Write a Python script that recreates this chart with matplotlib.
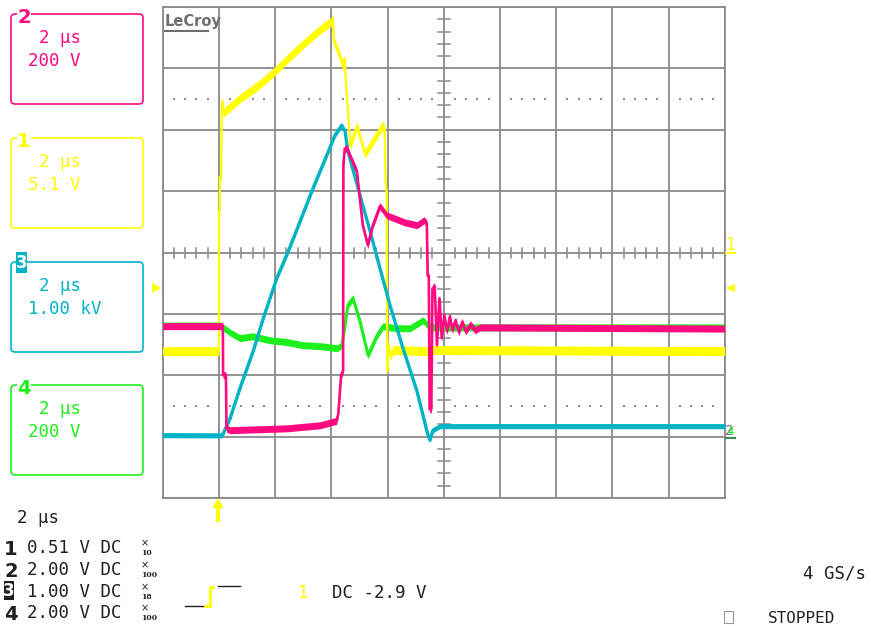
import numpy as np
import matplotlib.pyplot as plt
from matplotlib.patches import FancyBboxPatch, Rectangle, Polygon

W, H = 871, 626

# time in microseconds, trigger at t = 0 (2 us/div, screen spans -2..18 us)
# ch1: gate drive (V), 5.1 V/div
ch1_t = [-2.0, 0.0, 0.0, 0.03, 0.03, 0.08, 0.10, 0.12, 0.15, 0.75, 1.36, 1.92, 2.53,
         3.14, 3.70, 4.02, 4.06, 4.10, 4.26, 4.42, 4.47, 4.52, 4.63, 4.68, 4.91, 5.20,
         5.84, 5.90, 5.93, 5.97, 5.99, 6.03, 6.10, 6.20, 7.40, 7.50, 7.60, 18.0]
ch1_v = [-8.2, -8.2, 3.4, 3.4, 6.3, 6.3, 11.4, 12.6, 11.6, 12.8, 13.8, 14.9, 16.3,
         17.6, 18.7, 19.2, 19.5, 17.5, 16.6, 15.5, 16.1, 14.2, 10.5, 8.9, 10.5, 8.2,
         10.6, 10.2, 5.8, 5.0, -9.9, -7.6, -8.6, -8.1, -8.2, -8.8, -8.1, -8.2]

# ch2: switch voltage (V), 200 V/div
ch2_t = [-2.0, 0.14, 0.15, 0.25, 0.27, 0.40, 2.42, 3.60, 4.13, 4.18, 4.25, 4.35, 4.42,
         4.43, 4.48, 4.56, 4.66, 4.91, 5.12, 5.30, 5.48, 5.73, 5.98, 6.26, 6.62, 7.05,
         7.30, 7.40, 7.43, 7.47, 7.50, 7.56, 7.60, 7.68, 7.76, 7.85, 7.93, 8.02, 8.12,
         8.22, 8.31, 8.42, 8.54, 8.66, 8.78, 8.95, 9.12, 9.30, 18.0]
ch2_v = [326, 326, 166, 166, -8, -13, -7, 3, 16, 16, 40, 166, 180,
         850, 905, 905, 883, 830, 655, 590, 655, 717, 687, 677, 664, 655,
         671, 661, 490, 490, 55, 55, 449, 456, 264, 417, 287, 362, 309,
         358, 313, 345, 306, 340, 309, 332, 313, 322, 318]

# ch3: output voltage (V), 1.00 kV/div
ch3_t = [-2.0, 0.10, 0.16, 0.40, 0.75, 1.22, 1.58, 2.06, 2.47, 2.89, 3.35, 3.84, 4.13,
         4.37, 4.49, 4.59, 5.12, 5.38, 5.73, 6.09, 6.55, 7.05, 7.44, 7.51, 7.62, 7.87, 18.0]
ch3_v = [-147, -150, -114, 130, 619, 1222, 1759, 2411, 2851, 3339, 3877, 4415, 4740,
         4903, 4806, 4480, 3600, 3177, 2574, 1971, 1271, 570, -147, -228, -65, 0, 0]

# ch4 (V), 200 V/div
ch4_t = [-2.0, 0.04, 0.15, 0.40, 0.75, 1.21, 1.82, 2.42, 2.99, 3.60, 4.21, 4.38, 4.49,
         4.59, 4.77, 5.02, 5.31, 5.63, 5.84, 6.34, 6.80, 7.26, 7.51, 18.0]
ch4_v = [328, 328, 322, 305, 287, 293, 280, 274, 264, 261, 254, 264, 329,
         394, 417, 342, 231, 296, 326, 319, 319, 345, 322, 322]

# volts per division and ground position (divisions from centre)
ch1_scale, ch1_gnd = 5.1, 0.0
ch2_scale, ch2_gnd = 200, -2.83
ch3_scale, ch3_gnd = 1000, -2.83
ch4_scale, ch4_gnd = 200, -2.83

YELLOW = '#ffff00'
MAGENTA = '#ff0a80'
CYAN = '#00b4c6'
GREEN = '#1ef01e'
GRID = '#8a8a8a'
INK = '#202020'
MONO = 'DejaVu Sans Mono'

fig = plt.figure(figsize=(W / 100, H / 100), dpi=100)
ax = fig.add_axes([162.7 / W, 1 - 498 / H, 562 / W, 491 / H])
ax.set_xlim(-2, 18)
ax.set_ylim(-4, 4)
ax.set_xticks(np.arange(-2, 18.1, 2))
ax.set_yticks(np.arange(-4, 4.1, 1))
ax.grid(True, color=GRID, lw=1.3)
ax.tick_params(length=0, labelbottom=False, labelleft=False)
for s in ax.spines.values():
    s.set_color(GRID)
    s.set_linewidth(1.3)

px_x = 562 / 20   # pixels per us
px_y = 491 / 8    # pixels per div

# centre graticule ticks and dotted rows
for yy in np.arange(-4, 4.01, 0.2):
    if abs(yy - round(yy)) > 1e-6:
        ax.plot([8 - 6 / px_x, 8 + 6 / px_x], [yy, yy], color=GRID, lw=1.1, zorder=1)
minor_x = [xx for xx in np.arange(-2, 18.01, 0.4) if abs(xx / 2 - round(xx / 2)) > 1e-6]
for xx in minor_x:
    ax.plot([xx, xx], [-5 / px_y, 5 / px_y], color=GRID, lw=1.1, zorder=1)
ax.scatter(minor_x * 2, [2.5] * len(minor_x) + [-2.5] * len(minor_x),
           s=1.5, marker='s', color=GRID, lw=0, zorder=1)


def trace(t, v, scale, gnd, color, half, lw, z):
    y = np.asarray(v, float) / scale + gnd
    h = half / px_y
    ax.fill_between(t, y - h, y + h, color=color, lw=0, zorder=z)
    ax.plot(t, y, color=color, lw=lw, zorder=z)


trace(ch4_t, ch4_v, ch4_scale, ch4_gnd, GREEN, 3.5, 2.2, 3)
trace(ch1_t, ch1_v, ch1_scale, ch1_gnd, YELLOW, 4.5, 1.6, 4)
trace(ch3_t, ch3_v, ch3_scale, ch3_gnd, CYAN, 2.5, 2.4, 5)
trace(ch2_t, ch2_v, ch2_scale, ch2_gnd, MAGENTA, 3.5, 1.9, 6)

# overlay in pixel coordinates for the scope's annotations
deco = fig.add_axes([0, 0, 1, 1], zorder=10)
deco.set_xlim(0, W)
deco.set_ylim(H, 0)
deco.axis('off')

deco.text(165, 26, 'LeCroy', fontweight='bold', color='#6e6e6e', fontsize=10.5, va='baseline')
deco.plot([165, 208], [31, 31], color='#6e6e6e', lw=1.5)

boxes = [(14, MAGENTA, '2', '200 V'), (138, YELLOW, '1', '5.1 V'),
         (262, CYAN, '3', '1.00 kV'), (385, GREEN, '4', '200 V')]
for top, c, num, volt in boxes:
    deco.add_patch(FancyBboxPatch((11, top), 132, 90, boxstyle='round,pad=0,rounding_size=4',
                                  fc='none', ec=c, lw=1.2))
    deco.text(39, top + 29, '2 μs', color=c, family=MONO, fontsize=12.5, va='baseline')
    deco.text(28, top + 52, volt, color=c, family=MONO, fontsize=12.5, va='baseline')
    if num == '3':
        deco.add_patch(Rectangle((16, top - 10), 11, 21, fc=c, ec='none'))
        deco.text(21.5, top + 0.5, num, color='white', fontweight='bold', fontsize=12,
                  ha='center', va='center')
    else:
        deco.text(17, top + 9, num, color=c, fontweight='bold', fontsize=14, va='baseline',
                  bbox=dict(fc='white', ec='none', pad=0.3))

# bottom readout
deco.text(17, 523, '2 μs', color=INK, family=MONO, fontsize=12.5, va='baseline')
rows = [(553, '1', '0.51 V DC', '10'), (575, '2', '2.00 V DC', '100'),
        (597, '3', '1.00 V DC', '18'), (618, '4', '2.00 V DC', '100')]
for base, num, txt, mult in rows:
    if num == '3':
        deco.add_patch(Rectangle((4, base - 16), 10, 19, fc=INK, ec='none'))
        deco.text(9, base - 6.5, num, color='white', fontweight='bold', fontsize=12,
                  ha='center', va='center')
    else:
        deco.text(4, base + 2, num, color=INK, fontweight='bold', fontsize=14, va='baseline')
    deco.text(27, base, txt, color=INK, family=MONO, fontsize=12.5, va='baseline')
    deco.text(141, base - 7, '×', color=INK, fontsize=7, va='baseline')
    deco.text(141, base + 2, mult, color=INK, family='DejaVu Serif', fontweight='bold',
              fontsize=5.5, va='baseline')

# trigger symbol
deco.plot([185, 207], [606, 606], color=INK, lw=1)
deco.plot([205, 210, 210, 213], [606, 606, 587, 587], color=YELLOW, lw=2)
deco.plot([218, 240], [586, 586], color=INK, lw=1)
deco.text(298, 598, '1', color=YELLOW, family=MONO, fontsize=12.5, va='baseline')
deco.text(332, 598, 'DC -2.9 V', color=INK, family=MONO, fontsize=12.5, va='baseline')

deco.text(803, 578, '4 GS/s', color=INK, family=MONO, fontsize=12.5, va='baseline')
deco.add_patch(Rectangle((724, 611), 9, 12, fc='none', ec='#9a9a9a', lw=0.8))
deco.text(768, 623, 'STOPPED', color=INK, family=MONO, fontsize=11.5, va='baseline')

# trigger / level markers
deco.add_patch(Polygon([(212.5, 508), (218, 498), (223.5, 508)], fc=YELLOW, ec='none'))
deco.add_patch(Rectangle((216.3, 507), 3.6, 15, fc=YELLOW, ec='none'))
deco.add_patch(Polygon([(152, 283), (152, 293), (161, 288)], fc=YELLOW, ec='none'))
deco.add_patch(Polygon([(735, 284), (735, 292), (726, 288)], fc=YELLOW, ec='none'))
deco.text(725, 250, '1', color=YELLOW, family=MONO, fontsize=12, va='baseline')
deco.plot([726, 735], [253, 253], color=YELLOW, lw=1.5)
deco.text(725, 435, '2', color='#9a5aa0', family=MONO, fontsize=10, va='baseline')
deco.text(726, 435, '4', color=GREEN, family=MONO, fontsize=9, va='baseline')
deco.plot([726, 735], [438, 438], color='#3a8a5a', lw=1.5)

fig.savefig('out.png', dpi=100)
